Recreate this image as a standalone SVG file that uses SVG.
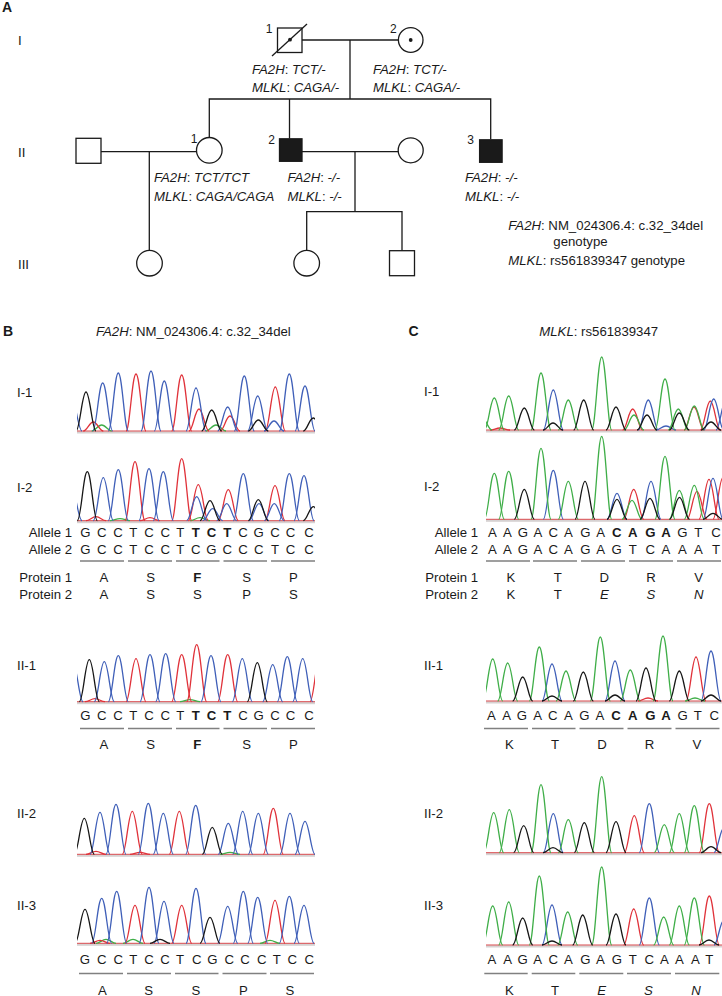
<svg xmlns="http://www.w3.org/2000/svg" width="722" height="996" viewBox="0 0 722 996">
<style>
text{font-family:"Liberation Sans",Arial,Helvetica,sans-serif;fill:#1a1a1a;font-size:13.2px}
.it{font-style:italic}
.bd{font-weight:bold}
.pl{font-size:14px;font-weight:bold}
.num{font-size:12px;text-anchor:middle}
.end{text-anchor:end}
.mid{text-anchor:middle}
.sym{fill:#fff;stroke:#1a1a1a;stroke-width:1.3}
.aff{fill:#1a1a1a;stroke:#1a1a1a;stroke-width:1.3}
.ln{fill:none;stroke:#1a1a1a;stroke-width:1.3}
.ul{stroke:#808080;stroke-width:1.3}
.tr{stroke-width:1.3;fill:none}
.k{stroke:#161616}.b{stroke:#3f5fb8}.r{stroke:#e0323a}.g{stroke:#3fae48}
.bl{stroke:#d8484c;stroke-width:1}
.band{fill:#d6d2d2}
</style>
<defs>
<path id="p" d="M-10 0C-6.2 0-4-1 0-1S6.2 0 10 0" fill="none" vector-effect="non-scaling-stroke"/>
<clipPath id="cb"><rect x="77" y="340" width="238" height="620"/></clipPath>
<clipPath id="cc"><rect x="486" y="340" width="236" height="620"/></clipPath>
</defs>

<!-- Panel A: pedigree -->
<text class="pl" x="2" y="12">A</text>
<text x="18" y="45">I</text>
<text x="18" y="157">II</text>
<text x="18" y="269">III</text>

<g id="connectors" class="ln">
<path d="M302 40H398.4"/>
<path d="M350 40V99"/>
<path d="M209.3 137.5V99H490.7V139.3"/>
<path d="M289.5 99V138.5"/>
<path d="M101 151.6H196.5"/>
<path d="M149.3 151.6V250.4"/>
<path d="M302 151.6H398.2"/>
<path d="M355 151.6V211.7"/>
<path d="M306.7 250.4V211.7H402V250.7"/>
</g>

<g id="I-1">
<rect class="sym" x="277.5" y="28" width="24.5" height="24.5"/>
<path class="ln" d="M272 56L307 24"/>
<circle cx="290" cy="39.7" r="1.9" fill="#1a1a1a"/>
<text class="num" x="269" y="33">1</text>
<text class="it" x="252" y="74">FA2H<tspan font-style="normal">:</tspan> TCT/-</text>
<text class="it" x="252" y="92">MLKL<tspan font-style="normal">:</tspan> CAGA/-</text>
</g>
<g id="I-2">
<circle class="sym" cx="410.7" cy="40" r="12.3"/>
<circle cx="410.7" cy="40" r="1.9" fill="#1a1a1a"/>
<text class="num" x="393.3" y="33">2</text>
<text class="it" x="373" y="74">FA2H<tspan font-style="normal">:</tspan> TCT/-</text>
<text class="it" x="373" y="92">MLKL<tspan font-style="normal">:</tspan> CAGA/-</text>
</g>
<g id="II-spouse1">
<rect class="sym" x="76" y="138.3" width="25" height="25"/>
</g>
<g id="II-1">
<circle class="sym" cx="209.3" cy="150.3" r="12.8"/>
<text class="num" x="194" y="143">1</text>
<text class="it" x="154" y="181.5">FA2H<tspan font-style="normal">:</tspan> TCT/TCT</text>
<text class="it" x="154" y="200.5">MLKL<tspan font-style="normal">:</tspan> CAGA/CAGA</text>
</g>
<g id="II-2">
<rect class="aff" x="279.5" y="138.8" width="22.5" height="22.5"/>
<text class="num" x="271.5" y="143.5">2</text>
<text class="it" x="287.5" y="181.5">FA2H<tspan font-style="normal">:</tspan> -/-</text>
<text class="it" x="287.5" y="200.5">MLKL<tspan font-style="normal">:</tspan> -/-</text>
</g>
<g id="II-spouse2">
<circle class="sym" cx="410.7" cy="150.3" r="12.5"/>
</g>
<g id="II-3">
<rect class="aff" x="479.6" y="139.8" width="22.5" height="22.5"/>
<text class="num" x="470.6" y="144">3</text>
<text class="it" x="465" y="181.5">FA2H<tspan font-style="normal">:</tspan> -/-</text>
<text class="it" x="465" y="200.5">MLKL<tspan font-style="normal">:</tspan> -/-</text>
</g>
<g id="III-1"><circle class="sym" cx="149.5" cy="263.2" r="12.8"/></g>
<g id="III-2"><circle class="sym" cx="306.7" cy="263.2" r="12.8"/></g>
<g id="III-3"><rect class="sym" x="389.5" y="250.7" width="25" height="25"/></g>
<g id="legend">
<text x="508.3" y="230"><tspan class="it">FA2H</tspan>: NM_024306.4: c.32_34del</text>
<text x="553.3" y="246">genotype</text>
<text x="508.3" y="265"><tspan class="it">MLKL</tspan>: rs561839347 genotype</text>
</g>

<!-- Panel B -->
<text class="pl" x="3" y="336">B</text>
<text x="96" y="336"><tspan class="it">FA2H</tspan>: NM_024306.4: c.32_34del</text>
<!-- Panel C -->
<text class="pl" x="408.5" y="336">C</text>
<text x="539.3" y="336"><tspan class="it">MLKL</tspan>: rs561839347</text>

<!-- trace labels -->
<text x="17" y="397">I-1</text>
<text x="17" y="491.5">I-2</text>
<text x="17" y="670">II-1</text>
<text x="17" y="817.5">II-2</text>
<text x="17" y="910">II-3</text>
<text x="424" y="396">I-1</text>
<text x="424" y="491">I-2</text>
<text x="424" y="670">II-1</text>
<text x="424" y="817.5">II-2</text>
<text x="424" y="910">II-3</text>

<!-- B traces -->
<g id="B-I-1" class="tr" clip-path="url(#cb)"><g transform="translate(0 431)">
<rect class="band" x="77" y="0.3" width="238" height="2.2"/>
<path class="bl" d="M77 0H315"/>
<g class="g"><use href="#p" transform="matrix(1 0 0 6 101.7 0)"/><use href="#p" transform="matrix(1 0 0 6 216 0)"/></g>
<g class="r"><use href="#p" transform="matrix(1 0 0 9 93.3 0)"/><use href="#p" transform="matrix(1 0 0 57 136 0)"/><use href="#p" transform="matrix(1 0 0 56 181.7 0)"/><use href="#p" transform="matrix(1 0 0 22 199 0)"/><use href="#p" transform="matrix(1 0 0 15 230 0)"/><use href="#p" transform="matrix(1 0 0 44 275.3 0)"/></g>
<g class="b"><use href="#p" transform="matrix(1 0 0 30 72 0)"/><use href="#p" transform="matrix(1 0 0 48 102.7 0)"/><use href="#p" transform="matrix(1 0 0 58 118.3 0)"/><use href="#p" transform="matrix(1 0 0 60 151 0)"/><use href="#p" transform="matrix(1 0 0 50 164.3 0)"/><use href="#p" transform="matrix(1 0 0 43 196 0)"/><use href="#p" transform="matrix(1 0 0 24 227.7 0)"/><use href="#p" transform="matrix(1 0 0 55 244.3 0)"/><use href="#p" transform="matrix(1 0 0 35 257.7 0)"/><use href="#p" transform="matrix(1 0 0 10 274 0)"/><use href="#p" transform="matrix(1 0 0 57 289.3 0)"/><use href="#p" transform="matrix(1 0 0 45 305 0)"/></g>
<g class="k"><use href="#p" transform="matrix(1 0 0 39 86 0)"/><use href="#p" transform="matrix(1 0 0 21 211.7 0)"/><use href="#p" transform="matrix(1 0 0 11 258.3 0)"/><use href="#p" transform="matrix(1 0 0 13 313.3 0)"/></g>
</g></g>

<g id="B-I-2" class="tr" clip-path="url(#cb)"><g transform="translate(0 520.7)">
<rect class="band" x="77" y="0.3" width="238" height="2.2"/>
<path class="bl" d="M77 0H315"/>
<g class="g"><use href="#p" transform="matrix(1 0 0 2 120 0)"/><use href="#p" transform="matrix(1 0 0 3 200 0)"/></g>
<g class="r"><use href="#p" transform="matrix(1 0 0 4 96 0)"/><use href="#p" transform="matrix(1 0 0 59 135 0)"/><use href="#p" transform="matrix(1 0 0 3 150 0)"/><use href="#p" transform="matrix(1 0 0 62 181.7 0)"/><use href="#p" transform="matrix(1 0 0 36 198.3 0)"/><use href="#p" transform="matrix(1 0 0 31 228.3 0)"/><use href="#p" transform="matrix(1 0 0 35 275 0)"/></g>
<g class="b"><use href="#p" transform="matrix(1 0 0 30 72 0)"/><use href="#p" transform="matrix(1 0 0 43 103.3 0)"/><use href="#p" transform="matrix(1 0 0 51 118.3 0)"/><use href="#p" transform="matrix(1 0 0 52 149 0)"/><use href="#p" transform="matrix(1 0 0 49 163.3 0)"/><use href="#p" transform="matrix(1 0 0 24 196.7 0)"/><use href="#p" transform="matrix(1 0 0 12 212.7 0)"/><use href="#p" transform="matrix(1 0 0 17 226.7 0)"/><use href="#p" transform="matrix(1 0 0 47 243.3 0)"/><use href="#p" transform="matrix(1 0 0 17 259 0)"/><use href="#p" transform="matrix(1 0 0 17 274.3 0)"/><use href="#p" transform="matrix(1 0 0 47 289.3 0)"/><use href="#p" transform="matrix(1 0 0 45 304 0)"/></g>
<g class="k"><use href="#p" transform="matrix(1 0 0 49 87.3 0)"/><use href="#p" transform="matrix(1 0 0 20 210 0)"/><use href="#p" transform="matrix(1 0 0 21 258.3 0)"/><use href="#p" transform="matrix(1 0 0 14 313.3 0)"/></g>
</g></g>

<g id="B-II-1" class="tr" clip-path="url(#cb)"><g transform="translate(0 701.7)">
<rect class="band" x="77" y="0.3" width="238" height="2.2"/>
<path class="bl" d="M77 0H315"/>
<g class="g"><use href="#p" transform="matrix(1 0 0 2 190 0)"/></g>
<g class="r"><use href="#p" transform="matrix(1 0 0 3 95 0)"/><use href="#p" transform="matrix(1 0 0 43 136 0)"/><use href="#p" transform="matrix(1 0 0 47 181.7 0)"/><use href="#p" transform="matrix(1 0 0 57 196.7 0)"/><use href="#p" transform="matrix(1 0 0 47 227.7 0)"/><use href="#p" transform="matrix(1 0 0 45 320 0)"/></g>
<g class="b"><use href="#p" transform="matrix(1 0 0 38 73 0)"/><use href="#p" transform="matrix(1 0 0 40 104.3 0)"/><use href="#p" transform="matrix(1 0 0 46 118.3 0)"/><use href="#p" transform="matrix(1 0 0 47 150 0)"/><use href="#p" transform="matrix(1 0 0 48 165.7 0)"/><use href="#p" transform="matrix(1 0 0 46 211 0)"/><use href="#p" transform="matrix(1 0 0 43 242.3 0)"/><use href="#p" transform="matrix(1 0 0 37 272.7 0)"/><use href="#p" transform="matrix(1 0 0 45 287.3 0)"/><use href="#p" transform="matrix(1 0 0 43 302.7 0)"/></g>
<g class="k"><use href="#p" transform="matrix(1 0 0 42 89.3 0)"/><use href="#p" transform="matrix(1 0 0 39 257.3 0)"/></g>
</g></g>

<g id="B-II-2" class="tr" clip-path="url(#cb)"><g transform="translate(0 854.3)">
<rect class="band" x="77" y="0.3" width="238" height="2.2"/>
<path class="bl" d="M77 0H315"/>
<g class="g"><use href="#p" transform="matrix(1 0 0 2 230 0)"/></g>
<g class="r"><use href="#p" transform="matrix(1 0 0 3 96 0)"/><use href="#p" transform="matrix(1 0 0 43 132.3 0)"/><use href="#p" transform="matrix(1 0 0 2 140 0)"/><use href="#p" transform="matrix(1 0 0 43 179.3 0)"/><use href="#p" transform="matrix(1 0 0 46 273.3 0)"/></g>
<g class="b"><use href="#p" transform="matrix(1 0 0 42 100 0)"/><use href="#p" transform="matrix(1 0 0 50 116 0)"/><use href="#p" transform="matrix(1 0 0 51 148.3 0)"/><use href="#p" transform="matrix(1 0 0 41 163.3 0)"/><use href="#p" transform="matrix(1 0 0 49 195.7 0)"/><use href="#p" transform="matrix(1 0 0 31 228.3 0)"/><use href="#p" transform="matrix(1 0 0 43 242.7 0)"/><use href="#p" transform="matrix(1 0 0 41 258.3 0)"/><use href="#p" transform="matrix(1 0 0 41 290 0)"/><use href="#p" transform="matrix(1 0 0 33 305 0)"/></g>
<g class="k"><use href="#p" transform="matrix(1 0 0 36 84.3 0)"/><use href="#p" transform="matrix(1 0 0 27 212.3 0)"/></g>
</g></g>

<g id="B-II-3" class="tr" clip-path="url(#cb)"><g transform="translate(0 943.3)">
<rect class="band" x="77" y="0.3" width="238" height="2.2"/>
<path class="bl" d="M77 0H315"/>
<g class="g"><use href="#p" transform="matrix(1 0 0 4 106 0)"/><use href="#p" transform="matrix(1 0 0 4 133 0)"/><use href="#p" transform="matrix(1 0 0 3 270 0)"/></g>
<g class="r"><use href="#p" transform="matrix(1 0 0 3 100 0)"/><use href="#p" transform="matrix(1 0 0 38 135 0)"/><use href="#p" transform="matrix(1 0 0 38 181.7 0)"/><use href="#p" transform="matrix(1 0 0 43 275 0)"/></g>
<g class="b"><use href="#p" transform="matrix(1 0 0 45 101.7 0)"/><use href="#p" transform="matrix(1 0 0 52 116.7 0)"/><use href="#p" transform="matrix(1 0 0 56 149 0)"/><use href="#p" transform="matrix(1 0 0 42 164 0)"/><use href="#p" transform="matrix(1 0 0 55 196 0)"/><use href="#p" transform="matrix(1 0 0 37 227.7 0)"/><use href="#p" transform="matrix(1 0 0 52 243.3 0)"/><use href="#p" transform="matrix(1 0 0 46 257.7 0)"/><use href="#p" transform="matrix(1 0 0 47 289.3 0)"/><use href="#p" transform="matrix(1 0 0 38 304 0)"/></g>
<g class="k"><use href="#p" transform="matrix(1 0 0 34 85 0)"/><use href="#p" transform="matrix(1 0 0 4 160 0)"/><use href="#p" transform="matrix(1 0 0 26 210 0)"/></g>
</g></g>

<!-- C traces -->
<g id="C-I-1" class="tr" clip-path="url(#cc)"><g transform="translate(0 430)">
<rect class="band" x="486" y="0.3" width="236" height="2.2"/>
<path class="bl" d="M486 0H722"/>
<g class="r"><use href="#p" transform="matrix(1 0 0 2 500 0)"/><use href="#p" transform="matrix(1 0 0 21 632.7 0)"/><use href="#p" transform="matrix(1 0 0 23 694 0)"/><use href="#p" transform="matrix(1 0 0 29 710.3 0)"/></g>
<g class="b"><use href="#p" transform="matrix(1 0 0 40 553.3 0)"/><use href="#p" transform="matrix(1 0 0 30 648.3 0)"/><use href="#p" transform="matrix(1 0 0 4 666 0)"/><use href="#p" transform="matrix(1 0 0 31 713.7 0)"/><use href="#p" transform="matrix(1 0 0 30 726 0)"/></g>
<g class="g"><use href="#p" transform="matrix(1 0 0 12 482 0)"/><use href="#p" transform="matrix(1 0 0 32 494.3 0)"/><use href="#p" transform="matrix(1 0 0 34 508.7 0)"/><use href="#p" transform="matrix(1 0 0 57 541 0)"/><use href="#p" transform="matrix(1 0 0 30 568.3 0)"/><use href="#p" transform="matrix(1 0 0 73 601.7 0)"/><use href="#p" transform="matrix(1 0 0 15 634 0)"/><use href="#p" transform="matrix(1 0 0 51 665 0)"/><use href="#p" transform="matrix(1 0 0 21 678.3 0)"/><use href="#p" transform="matrix(1 0 0 24 694.3 0)"/></g>
<g class="k"><use href="#p" transform="matrix(1 0 0 22 524.3 0)"/><use href="#p" transform="matrix(1 0 0 7 553 0)"/><use href="#p" transform="matrix(1 0 0 30 583.7 0)"/><use href="#p" transform="matrix(1 0 0 23 616 0)"/><use href="#p" transform="matrix(1 0 0 15 647 0)"/><use href="#p" transform="matrix(1 0 0 17 679.3 0)"/><use href="#p" transform="matrix(1 0 0 8 711 0)"/></g>
</g></g>

<g id="C-I-2" class="tr" clip-path="url(#cc)"><g transform="translate(0 519.3)">
<rect class="band" x="486" y="0.3" width="236" height="2.2"/>
<path class="bl" d="M486 0H722"/>
<g class="r"><use href="#p" transform="matrix(1 0 0 30 633.7 0)"/><use href="#p" transform="matrix(1 0 0 28 697 0)"/><use href="#p" transform="matrix(1 0 0 40 709 0)"/><use href="#p" transform="matrix(1 0 0 42 723 0)"/></g>
<g class="b"><use href="#p" transform="matrix(1 0 0 49 553.3 0)"/><use href="#p" transform="matrix(1 0 0 26 617 0)"/><use href="#p" transform="matrix(1 0 0 38 651 0)"/><use href="#p" transform="matrix(1 0 0 41 713 0)"/></g>
<g class="g"><use href="#p" transform="matrix(1 0 0 46 494.3 0)"/><use href="#p" transform="matrix(1 0 0 48 508.7 0)"/><use href="#p" transform="matrix(1 0 0 71 541 0)"/><use href="#p" transform="matrix(1 0 0 38 568.3 0)"/><use href="#p" transform="matrix(1 0 0 83 601.7 0)"/><use href="#p" transform="matrix(1 0 0 19 632 0)"/><use href="#p" transform="matrix(1 0 0 63 665 0)"/><use href="#p" transform="matrix(1 0 0 29 679.3 0)"/><use href="#p" transform="matrix(1 0 0 34 694.3 0)"/></g>
<g class="k"><use href="#p" transform="matrix(1 0 0 30 524.3 0)"/><use href="#p" transform="matrix(1 0 0 38 585 0)"/><use href="#p" transform="matrix(1 0 0 20 617 0)"/><use href="#p" transform="matrix(1 0 0 21 650 0)"/><use href="#p" transform="matrix(1 0 0 22 679.5 0)"/><use href="#p" transform="matrix(1 0 0 6 713 0)"/></g>
</g></g>

<g id="C-II-1" class="tr" clip-path="url(#cc)"><g transform="translate(0 701)">
<rect class="band" x="486" y="0.3" width="236" height="2.2"/>
<path class="bl" d="M486 0H722"/>
<g class="r"><use href="#p" transform="matrix(1 0 0 3 648 0)"/><use href="#p" transform="matrix(1 0 0 44 696 0)"/></g>
<g class="b"><use href="#p" transform="matrix(1 0 0 37 552 0)"/><use href="#p" transform="matrix(1 0 0 40 615 0)"/><use href="#p" transform="matrix(1 0 0 50 711 0)"/></g>
<g class="g"><use href="#p" transform="matrix(1 0 0 42 492.7 0)"/><use href="#p" transform="matrix(1 0 0 38 507.7 0)"/><use href="#p" transform="matrix(1 0 0 54 539.3 0)"/><use href="#p" transform="matrix(1 0 0 30 566 0)"/><use href="#p" transform="matrix(1 0 0 64 600.3 0)"/><use href="#p" transform="matrix(1 0 0 31 630.3 0)"/><use href="#p" transform="matrix(1 0 0 65 663 0)"/><use href="#p" transform="matrix(1 0 0 3 695 0)"/></g>
<g class="k"><use href="#p" transform="matrix(1 0 0 24 522.7 0)"/><use href="#p" transform="matrix(1 0 0 5 552 0)"/><use href="#p" transform="matrix(1 0 0 29 583.3 0)"/><use href="#p" transform="matrix(1 0 0 6 615 0)"/><use href="#p" transform="matrix(1 0 0 33 646 0)"/><use href="#p" transform="matrix(1 0 0 30 679.3 0)"/><use href="#p" transform="matrix(1 0 0 6 711 0)"/></g>
</g></g>

<g id="C-II-2" class="tr" clip-path="url(#cc)"><g transform="translate(0 852.7)">
<rect class="band" x="486" y="0.3" width="236" height="2.2"/>
<path class="bl" d="M486 0H722"/>
<g class="r"><use href="#p" transform="matrix(1 0 0 37 634.3 0)"/><use href="#p" transform="matrix(1 0 0 49 709.3 0)"/></g>
<g class="b"><use href="#p" transform="matrix(1 0 0 39 553.3 0)"/><use href="#p" transform="matrix(1 0 0 49 649.3 0)"/><use href="#p" transform="matrix(1 0 0 25 724 0)"/></g>
<g class="g"><use href="#p" transform="matrix(1 0 0 40 493.7 0)"/><use href="#p" transform="matrix(1 0 0 43 509.3 0)"/><use href="#p" transform="matrix(1 0 0 68 541 0)"/><use href="#p" transform="matrix(1 0 0 33 568.3 0)"/><use href="#p" transform="matrix(1 0 0 76 601.7 0)"/><use href="#p" transform="matrix(1 0 0 28 664.3 0)"/><use href="#p" transform="matrix(1 0 0 39 679.3 0)"/><use href="#p" transform="matrix(1 0 0 47 694.3 0)"/></g>
<g class="k"><use href="#p" transform="matrix(1 0 0 27 523.7 0)"/><use href="#p" transform="matrix(1 0 0 5 553 0)"/><use href="#p" transform="matrix(1 0 0 30 584.3 0)"/><use href="#p" transform="matrix(1 0 0 31 616 0)"/><use href="#p" transform="matrix(1 0 0 6 711 0)"/></g>
</g></g>

<g id="C-II-3" class="tr" clip-path="url(#cc)"><g transform="translate(0 945)">
<rect class="band" x="486" y="0.3" width="236" height="2.2"/>
<path class="bl" d="M486 0H722"/>
<g class="r"><use href="#p" transform="matrix(1 0 0 36 633.7 0)"/><use href="#p" transform="matrix(1 0 0 49 709.3 0)"/></g>
<g class="b"><use href="#p" transform="matrix(1 0 0 40 552 0)"/><use href="#p" transform="matrix(1 0 0 47 649.3 0)"/><use href="#p" transform="matrix(1 0 0 25 724 0)"/></g>
<g class="g"><use href="#p" transform="matrix(1 0 0 39 492.7 0)"/><use href="#p" transform="matrix(1 0 0 43 508.7 0)"/><use href="#p" transform="matrix(1 0 0 69 539.3 0)"/><use href="#p" transform="matrix(1 0 0 33 567.7 0)"/><use href="#p" transform="matrix(1 0 0 78 601.7 0)"/><use href="#p" transform="matrix(1 0 0 28 663.7 0)"/><use href="#p" transform="matrix(1 0 0 39 679.3 0)"/><use href="#p" transform="matrix(1 0 0 47 694.3 0)"/></g>
<g class="k"><use href="#p" transform="matrix(1 0 0 27 522.7 0)"/><use href="#p" transform="matrix(1 0 0 4 552 0)"/><use href="#p" transform="matrix(1 0 0 30 582.7 0)"/><use href="#p" transform="matrix(1 0 0 31 616 0)"/><use href="#p" transform="matrix(1 0 0 5 709 0)"/></g>
</g></g>

<!-- B sequences -->
<g id="B-I-2-seq">
<text class="end" x="72" y="537">Allele 1</text>
<text class="end" x="72" y="553.5">Allele 2</text>
<text class="mid" x="85.5 101.8 118 133.3 149 165.2 180.2 195.8 211.5 227.2 243 258.7 275 290.5 309" y="537">GCCTCCT<tspan class="bd">TCT</tspan>CGCCC</text>
<text class="mid" x="85.5 101.8 118 133.3 149 165.2 180.2 195.8 211.5 227.2 243 258.7 275 290.5 309" y="553.5">GCCTCCTCGCCCTCC</text>
<path class="ul" d="M80 561H124M128 561H172M176 561H219.5M223.5 561H267M271 561H315"/>
<text class="end" x="72" y="582">Protein 1</text>
<text class="end" x="72" y="598.5">Protein 2</text>
<text class="mid" x="104 150.7 197.3 246.7 293.5" y="582">AS<tspan class="bd">F</tspan>SP</text>
<text class="mid" x="104 150.7 197.3 246.7 293.5" y="598.5">ASSPS</text>
</g>
<g id="B-II-1-seq">
<text class="mid" x="85.5 101.8 118 133.3 149 165.2 180.2 195.8 211.5 227.2 243 258.7 275 290.5 309" y="720">GCCTCCT<tspan class="bd">TCT</tspan>CGCCC</text>
<path class="ul" d="M80 728.5H124M128 728.5H172M176 728.5H219.5M223.5 728.5H267M271 728.5H315"/>
<text class="mid" x="104 150.7 197.3 246.7 293.5" y="748.5">AS<tspan class="bd">F</tspan>SP</text>
</g>
<g id="B-II-3-seq">
<text class="mid" x="85 101.7 118.3 133.3 149 165 180 196.7 212.3 229.3 245 261.7 276.7 292.3 309.3" y="964">GCCTCCTCGCCCTCC</text>
<path class="ul" d="M79 973.5H123M127 973.5H171M175 973.5H218.5M222.5 973.5H266.5M270 973.5H314"/>
<text class="mid" x="102.5 148.7 196 243.3 290" y="994.5">ASSPS</text>
</g>

<!-- C sequences -->
<g id="C-I-2-seq">
<text class="end" x="478" y="537">Allele 1</text>
<text class="end" x="478" y="553.5">Allele 2</text>
<text class="mid" x="492.3 507.5 523 538 553.3 568.3 585.5 600.7 616.7 632.7 650.3 666 682.5 698.3 716" y="537">AAGACAGA<tspan class="bd">CAGA</tspan>GTC</text>
<text class="mid" x="492.3 507.5 523 538 553.3 568.3 585.5 600.7 616.7 632.7 650.3 666 682.5 698.3 716" y="553.5">AAGACAGAGTCAAAT</text>
<path class="ul" d="M486 561H530M533 561H577M581 561H625M629 561H673M677 561H721"/>
<text class="end" x="478" y="582">Protein 1</text>
<text class="end" x="478" y="598.5">Protein 2</text>
<text class="mid" x="511 557.7 604.3 651 698.7" y="582">KTDRV</text>
<text class="mid" x="511 557.7 604.3 651 698.7" y="598.5">KT<tspan class="it">ESN</tspan></text>
</g>
<g id="C-II-1-seq">
<text class="mid" x="491.3 506.7 522 537.7 552.7 568.3 584.3 600 616 632.7 650.3 666 682.7 697.7 714.3" y="720">AAGACAGA<tspan class="bd">CAGA</tspan>GTC</text>
<path class="ul" d="M484 728.5H528M532 728.5H575.5M579.5 728.5H623.5M627.5 728.5H671.5M675.5 728.5H719.5"/>
<text class="mid" x="509.5 555 602 649.5 697" y="748.5">KTDRV</text>
</g>
<g id="C-II-3-seq">
<text class="mid" x="492 507.7 522.7 537.7 553.3 568.3 585.3 600.3 617 632.7 649.3 664.3 679.3 695.3 709.3" y="964">AAGACAGAGTCAAAT</text>
<path class="ul" d="M484.3 973.5H527.7M531.7 973.5H575.3M579.3 973.5H623.3M627 973.5H671M675 973.5H719.3"/>
<text class="mid" x="509.5 555 601.7 648.3 696" y="994.5">KT<tspan class="it">ESN</tspan></text>
</g>
</svg>
